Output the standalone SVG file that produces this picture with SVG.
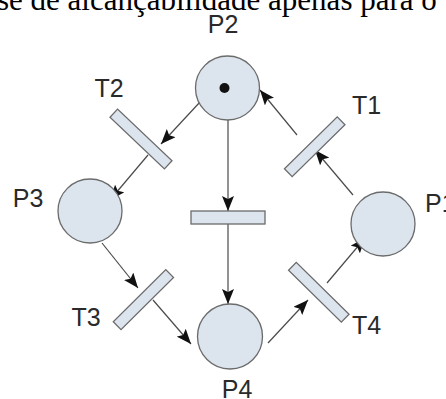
<svg xmlns="http://www.w3.org/2000/svg" width="446" height="399" viewBox="0 0 446 399">
  <style>
    .place { fill: #dce4ee; stroke: #6b6b6b; stroke-width: 1.3; }
    .trans { fill: #dce4ee; stroke: #6b6b6b; stroke-width: 1.3; }
    .arc { stroke: #4a4a4a; stroke-width: 1.2; fill: none; marker-end: url(#head); }
    .lbl { font-family: "Liberation Sans", Arial, sans-serif; font-size: 25px; fill: #2a2a2a; }
    .cap { font-family: "Liberation Serif", "Times New Roman", serif; font-size: 31px; fill: #000; }
  </style>
  <defs>
    <marker id="head" markerUnits="userSpaceOnUse" markerWidth="16" markerHeight="12" refX="15" refY="6" orient="auto">
      <path d="M0,0 L15,6 L0,12 L3,6 Z" fill="#111"/>
    </marker>
  </defs>
  <rect width="446" height="399" fill="#fff"/>
  <text class="cap" x="-3" y="10">se de alcançabilidade apenas para o</text>

  <g id="connectors">
    <line class="arc" x1="200" y1="102" x2="161" y2="144"/>
    <line class="arc" x1="148" y1="155" x2="110" y2="200"/>
    <line class="arc" x1="102" y1="243" x2="138" y2="288"/>
    <line class="arc" x1="153" y1="300" x2="191" y2="344"/>
    <line class="arc" x1="268" y1="343" x2="308" y2="300"/>
    <line class="arc" x1="327" y1="283" x2="365" y2="238"/>
    <line class="arc" x1="353" y1="195" x2="315" y2="150"/>
    <line class="arc" x1="297" y1="135" x2="260" y2="90"/>
    <line class="arc" x1="228" y1="120" x2="228" y2="211"/>
    <line class="arc" x1="228" y1="224" x2="228" y2="304"/>
  </g>

  <g id="P2">
    <circle class="place" cx="227.5" cy="88" r="32"/>
    <circle cx="224.5" cy="88" r="5" fill="#111"/>
    <text class="lbl" x="223" y="33" text-anchor="middle">P2</text>
  </g>
  <g id="P3">
    <circle class="place" cx="90" cy="211" r="32"/>
    <text class="lbl" x="28" y="207" text-anchor="middle">P3</text>
  </g>
  <g id="P4">
    <circle class="place" cx="230" cy="336.5" r="32.5"/>
    <text class="lbl" x="237" y="398" text-anchor="middle">P4</text>
  </g>
  <g id="P1">
    <circle class="place" cx="383" cy="224" r="32"/>
    <text class="lbl" x="425" y="212">P1</text>
  </g>

  <g id="T2">
    <rect class="trans" x="-37.5" y="-5.5" width="75" height="11" transform="translate(141 139) rotate(43.5)"/>
    <text class="lbl" x="109" y="97" text-anchor="middle">T2</text>
  </g>
  <g id="T1">
    <rect class="trans" x="-37" y="-5.5" width="74" height="11" transform="translate(314.7 146.8) rotate(-44.5)"/>
    <text class="lbl" x="352" y="114">T1</text>
  </g>
  <g id="T3">
    <rect class="trans" x="-37" y="-5.5" width="74" height="11" transform="translate(143.4 299.6) rotate(-44.8)"/>
    <text class="lbl" x="86" y="326" text-anchor="middle">T3</text>
  </g>
  <g id="T4">
    <rect class="trans" x="-37" y="-5.5" width="74" height="11" transform="translate(318.8 292.2) rotate(44.5)"/>
    <text class="lbl" x="352" y="334">T4</text>
  </g>
  <g id="T5">
    <rect class="trans" x="191" y="211" width="74" height="13"/>
  </g>
</svg>
